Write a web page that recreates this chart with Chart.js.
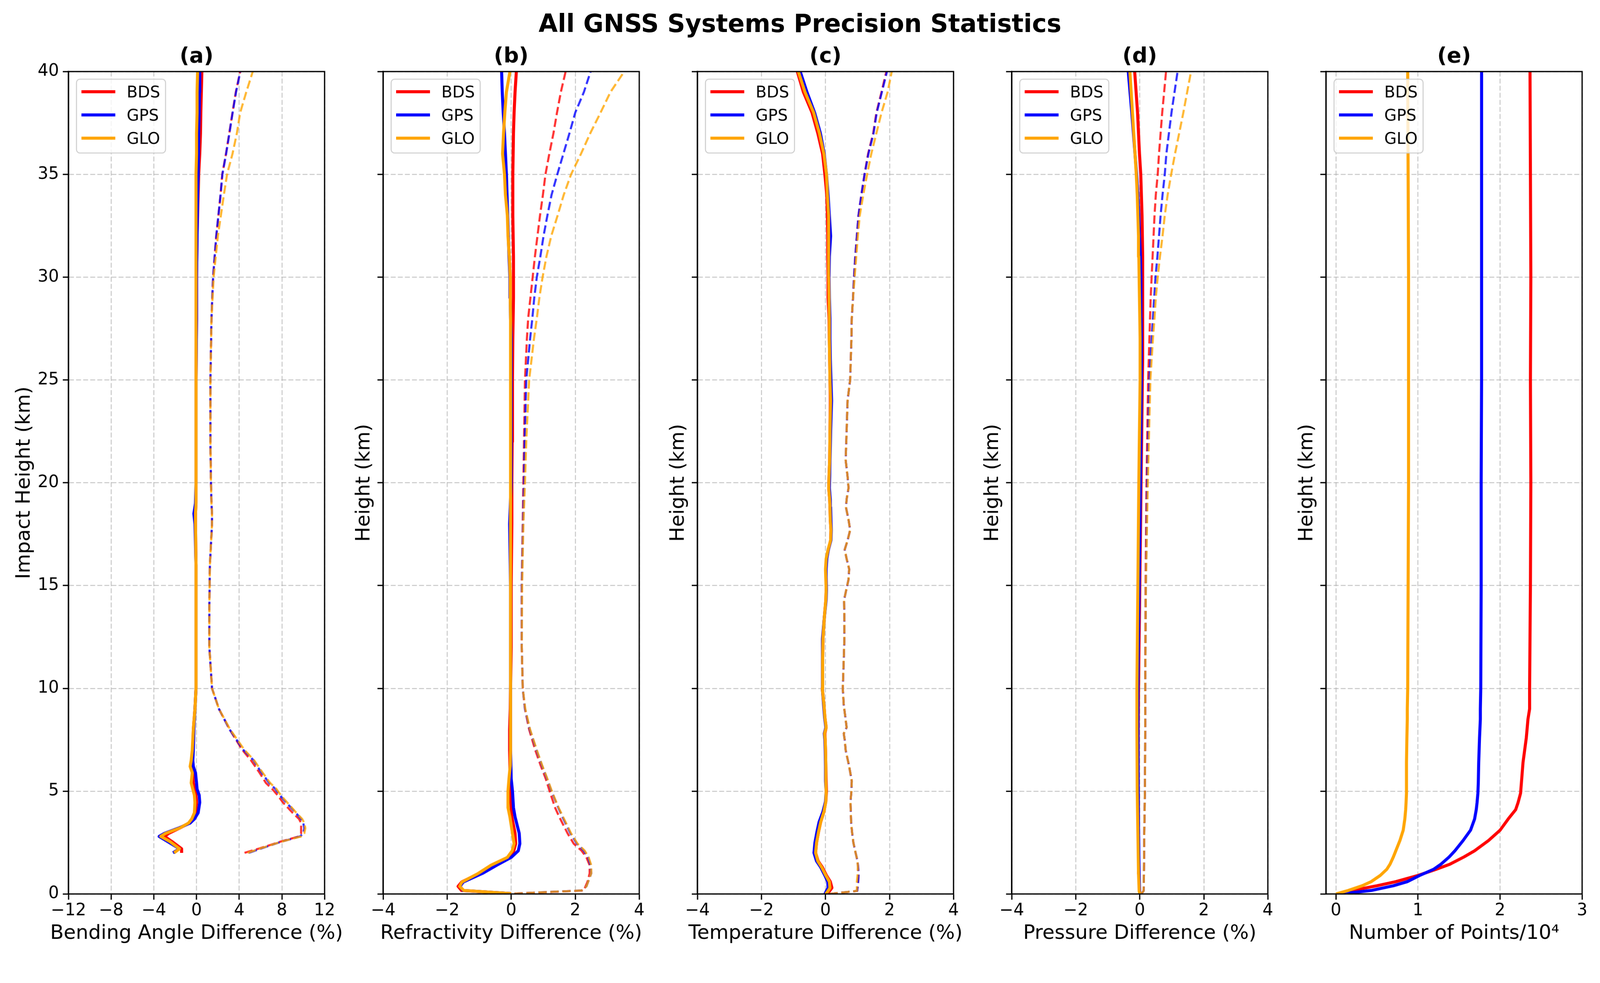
<!DOCTYPE html>
<html>
<head>
<meta charset="utf-8">
<script src="https://cdn.jsdelivr.net/npm/chart.js@4.4.1/dist/chart.umd.min.js"></script>
<style>
html,body{margin:0;padding:0;background:#ffffff;overflow:hidden;}
#fig{position:absolute;left:0;top:0;width:4205px;height:2516px;background:#ffffff;overflow:hidden;transform-origin:0 0;}
#fig canvas{position:absolute;top:0;}
#suptitle{position:absolute;left:0;top:24px;width:4205px;text-align:center;font-family:'DejaVu Sans';font-weight:bold;font-size:65px;line-height:normal;color:#000;white-space:nowrap;}
</style>
</head>
<body>
<div id="fig"><div id="suptitle">All GNSS Systems Precision Statistics</div></div>
<script>
// ---------------- DATA ----------------
const SYSTEMS = ['BDS', 'GPS', 'GLO'];
const SYS_COLORS = ['#ff0000', '#0000ff', '#ffa500'];
const SYS_COLORS_DASH = ['rgba(255,0,0,0.8)', 'rgba(0,0,255,0.8)', 'rgba(255,165,0,0.8)'];

const PANEL_TITLES = ['(a)', '(b)', '(c)', '(d)', '(e)'];
const X_LABELS = ['Bending Angle Difference (%)', 'Refractivity Difference (%)', 'Temperature Difference (%)', 'Pressure Difference (%)', 'Number of Points/10\u2074'];
const Y_LABELS = ['Impact Height (km)', 'Height (km)', 'Height (km)', 'Height (km)', 'Height (km)'];

const X_TICKS_A = [-12, -8, -4, 0, 4, 8, 12];
const X_TICKS_BCD = [-4, -2, 0, 2, 4];
const X_TICKS_E = [0, 1, 2, 3];
const Y_TICKS = [0, 5, 10, 15, 20, 25, 30, 35, 40];
const X_LIMITS = [[-12, 12], [-4, 4], [-4, 4], [-4, 4], [-0.12, 3]];
const Y_LIMITS = [0, 40];

// (a) Bending angle
const HEIGHT_A = [2.0, 2.2, 2.55, 2.8, 2.95, 3.2, 3.45, 3.65, 3.95, 4.45, 4.8, 5.1, 5.4, 5.9, 6.2, 6.5, 7.0, 8.0, 9.0, 10, 12, 14, 16, 18, 18.5, 19, 20, 22, 25, 28, 30, 32, 34, 35, 36, 37, 38, 39, 40];
const A_BDS_MEAN = [-1.4, -1.4, -2.3, -3.0, -2.6, -1.6, -0.7, -0.4, -0.1, 0.0, -0.05, -0.1, -0.3, -0.35, -0.5, -0.4, -0.35, -0.3, -0.15, -0.05, -0.05, -0.05, -0.05, -0.1, -0.1, -0.05, -0.05, -0.05, -0.05, 0.0, 0.0, 0.05, 0.15, 0.2, 0.3, 0.37, 0.4, 0.45, 0.5];
const A_GPS_MEAN = [-2.2, -1.6, -2.7, -3.5, -3.0, -1.7, -0.6, -0.2, 0.15, 0.3, 0.25, 0.05, 0.0, -0.1, -0.3, -0.35, -0.3, -0.25, -0.15, -0.05, -0.05, -0.05, -0.05, -0.15, -0.25, -0.1, -0.05, -0.05, -0.05, 0.0, 0.0, 0.05, 0.1, 0.15, 0.18, 0.2, 0.25, 0.28, 0.3];
const A_GLO_MEAN = [-2.1, -1.6, -2.5, -3.35, -2.9, -1.6, -0.75, -0.45, -0.2, -0.15, -0.2, -0.35, -0.5, -0.4, -0.6, -0.5, -0.4, -0.3, -0.15, -0.05, -0.05, -0.05, -0.05, -0.1, -0.1, -0.05, -0.05, -0.05, -0.05, -0.05, -0.05, -0.05, -0.05, -0.05, 0.0, 0.0, 0.05, 0.05, 0.1];
const A_BDS_STD = [4.5, 5.8, 7.9, 9.6, 9.8, 9.8, 9.8, 9.6, 9.0, 8.1, 7.6, 7.1, 6.5, 5.9, 5.5, 5.1, 4.3, 3.1, 2.1, 1.45, 1.2, 1.2, 1.25, 1.45, 1.45, 1.4, 1.35, 1.3, 1.3, 1.4, 1.55, 1.85, 2.25, 2.41, 2.76, 3.07, 3.37, 3.68, 4.09];
const A_GPS_STD = [4.9, 6.0, 8.0, 9.7, 10.0, 10.1, 10.0, 9.8, 9.3, 8.4, 7.8, 7.4, 6.8, 6.1, 5.7, 5.35, 4.4, 3.1, 2.1, 1.45, 1.2, 1.2, 1.25, 1.45, 1.45, 1.4, 1.35, 1.3, 1.3, 1.4, 1.55, 1.85, 2.25, 2.42, 2.77, 3.08, 3.38, 3.7, 4.1];
const A_GLO_STD = [4.8, 5.9, 8.0, 9.8, 10.1, 10.2, 10.1, 9.9, 9.35, 8.5, 7.9, 7.5, 6.9, 6.2, 5.8, 5.4, 4.5, 3.15, 2.1, 1.45, 1.2, 1.2, 1.25, 1.45, 1.45, 1.4, 1.35, 1.3, 1.3, 1.4, 1.6, 2.0, 2.56, 2.86, 3.37, 3.78, 4.09, 4.66, 5.27];

// (b) Refractivity
const HEIGHT_B = [0.02, 0.17, 0.37, 0.58, 1.0, 1.4, 1.78, 2.1, 2.45, 2.95, 3.75, 4.2, 5.0, 5.6, 6.25, 7.0, 8.0, 9.0, 10, 12, 15, 18, 20, 22, 25, 27, 28, 29, 30, 31, 32, 33, 34, 35, 36, 37, 38, 39, 40];
const B_BDS_MEAN = [0.0, -1.55, -1.66, -1.55, -1.0, -0.62, -0.08, 0.08, 0.14, 0.12, 0.02, 0.0, -0.02, -0.03, -0.04, -0.05, -0.05, -0.03, -0.02, 0.0, 0.0, 0.02, 0.02, 0.03, 0.04, 0.05, 0.06, 0.07, 0.07, 0.07, 0.06, 0.05, 0.05, 0.05, 0.06, 0.07, 0.09, 0.12, 0.16];
const B_GPS_MEAN = [0.0, -1.5, -1.6, -1.5, -0.9, -0.45, 0.0, 0.22, 0.27, 0.25, 0.12, 0.07, 0.04, 0.0, -0.01, -0.02, -0.02, -0.02, -0.02, -0.02, -0.02, -0.05, 0.0, 0.0, 0.0, 0.0, -0.02, -0.03, -0.04, -0.07, -0.09, -0.11, -0.13, -0.15, -0.18, -0.21, -0.25, -0.28, -0.30];
const B_GLO_MEAN = [0.0, -1.48, -1.61, -1.54, -1.03, -0.63, -0.12, 0.03, 0.09, 0.04, -0.04, -0.1, -0.1, -0.07, -0.03, -0.02, -0.02, -0.02, -0.02, -0.02, -0.02, -0.02, -0.02, -0.02, -0.02, -0.02, -0.02, -0.03, -0.03, -0.06, -0.1, -0.12, -0.18, -0.21, -0.27, -0.24, -0.2, -0.15, -0.04];
const B_BDS_STD = [0.1, 2.27, 2.32, 2.38, 2.45, 2.45, 2.35, 2.2, 1.95, 1.76, 1.5, 1.37, 1.2, 1.08, 0.92, 0.75, 0.56, 0.43, 0.36, 0.33, 0.33, 0.36, 0.38, 0.4, 0.43, 0.49, 0.53, 0.6, 0.67, 0.74, 0.82, 0.9, 0.99, 1.07, 1.19, 1.32, 1.43, 1.55, 1.70];
const B_GPS_STD = [0.1, 2.2, 2.35, 2.4, 2.5, 2.48, 2.4, 2.27, 2.05, 1.85, 1.6, 1.47, 1.26, 1.12, 0.96, 0.79, 0.58, 0.43, 0.36, 0.33, 0.33, 0.37, 0.4, 0.42, 0.47, 0.59, 0.66, 0.72, 0.80, 0.91, 1.01, 1.13, 1.26, 1.44, 1.63, 1.82, 2.0, 2.27, 2.48];
const B_GLO_STD = [0.1, 2.2, 2.35, 2.4, 2.5, 2.5, 2.42, 2.3, 2.07, 1.87, 1.62, 1.48, 1.27, 1.13, 0.97, 0.8, 0.59, 0.44, 0.36, 0.33, 0.34, 0.38, 0.43, 0.47, 0.56, 0.71, 0.8, 0.88, 0.98, 1.1, 1.25, 1.45, 1.64, 1.87, 2.18, 2.47, 2.79, 3.1, 3.53];

// (c) Temperature
const HEIGHT_C = [0, 0.15, 0.3, 0.6, 0.9, 1.3, 1.6, 2.0, 2.5, 3.0, 3.5, 4.0, 4.5, 5.0, 5.5, 6.2, 7.0, 7.5, 7.8, 8.1, 8.6, 9.2, 10, 11.4, 12.4, 13.4, 14.3, 14.8, 15.3, 15.8, 16.3, 16.75, 17.2, 17.7, 18.2, 18.8, 19.2, 19.75, 20.3, 21.1, 22.5, 24, 25, 26, 27, 28, 29, 30, 31, 32, 33, 34, 35, 36, 37, 38, 39, 40];
const C_BDS_MEAN = [0.05, 0.13, 0.2, 0.15, 0.03, -0.1, -0.23, -0.31, -0.28, -0.22, -0.15, -0.05, 0.01, 0.03, 0.02, 0.01, 0.0, -0.01, -0.02, 0.02, -0.02, -0.05, -0.1, -0.09, -0.08, -0.04, 0.01, 0.02, 0.02, 0.01, 0.03, 0.09, 0.16, 0.17, 0.15, 0.14, 0.13, 0.1, 0.11, 0.13, 0.14, 0.15, 0.14, 0.13, 0.12, 0.11, 0.08, 0.08, 0.07, 0.07, 0.06, 0.04, -0.02, -0.09, -0.24, -0.42, -0.69, -0.88];
const C_GPS_MEAN = [-0.02, 0.03, 0.08, 0.07, -0.02, -0.15, -0.28, -0.36, -0.33, -0.27, -0.2, -0.08, 0.0, 0.02, 0.0, 0.0, -0.01, -0.02, -0.04, 0.01, -0.03, -0.06, -0.1, -0.1, -0.09, -0.04, 0.02, 0.03, 0.02, 0.02, 0.04, 0.09, 0.17, 0.18, 0.17, 0.16, 0.15, 0.12, 0.13, 0.14, 0.16, 0.19, 0.17, 0.15, 0.14, 0.14, 0.12, 0.11, 0.12, 0.16, 0.12, 0.08, 0.03, -0.04, -0.16, -0.34, -0.58, -0.79];
const C_GLO_MEAN = [0.01, 0.08, 0.14, 0.12, 0.01, -0.12, -0.24, -0.31, -0.28, -0.22, -0.15, -0.05, 0.01, 0.02, 0.01, 0.01, 0.0, -0.01, -0.03, 0.02, -0.02, -0.05, -0.1, -0.09, -0.08, -0.04, 0.01, 0.02, 0.01, 0.0, 0.02, 0.08, 0.16, 0.17, 0.15, 0.14, 0.13, 0.1, 0.11, 0.13, 0.14, 0.16, 0.14, 0.13, 0.12, 0.12, 0.11, 0.1, 0.1, 0.1, 0.09, 0.06, 0.03, -0.05, -0.19, -0.37, -0.64, -0.85];
const C_BDS_STD = [0.12, 0.99, 1.0, 1.02, 1.03, 1.02, 1.0, 0.94, 0.87, 0.83, 0.8, 0.79, 0.78, 0.81, 0.82, 0.74, 0.63, 0.6, 0.57, 0.66, 0.62, 0.57, 0.54, 0.57, 0.59, 0.59, 0.58, 0.65, 0.72, 0.74, 0.66, 0.6, 0.69, 0.77, 0.72, 0.64, 0.66, 0.72, 0.69, 0.63, 0.66, 0.69, 0.77, 0.79, 0.81, 0.82, 0.86, 0.89, 0.93, 0.98, 1.03, 1.12, 1.22, 1.33, 1.49, 1.59, 1.75, 1.90];
const C_GPS_STD = [0.12, 0.99, 1.0, 1.02, 1.03, 1.02, 1.0, 0.94, 0.87, 0.83, 0.8, 0.79, 0.78, 0.81, 0.82, 0.74, 0.63, 0.6, 0.57, 0.66, 0.62, 0.57, 0.54, 0.57, 0.59, 0.59, 0.58, 0.65, 0.72, 0.74, 0.66, 0.6, 0.69, 0.77, 0.72, 0.64, 0.66, 0.72, 0.69, 0.63, 0.66, 0.69, 0.77, 0.79, 0.81, 0.82, 0.86, 0.89, 0.93, 0.98, 1.03, 1.12, 1.22, 1.34, 1.5, 1.6, 1.76, 1.92];
const C_GLO_STD = [0.12, 0.98, 0.98, 0.98, 1.0, 1.01, 1.0, 0.94, 0.87, 0.83, 0.8, 0.79, 0.78, 0.81, 0.82, 0.74, 0.63, 0.6, 0.57, 0.66, 0.62, 0.57, 0.54, 0.57, 0.59, 0.59, 0.58, 0.65, 0.72, 0.74, 0.66, 0.6, 0.69, 0.77, 0.72, 0.64, 0.66, 0.72, 0.69, 0.63, 0.66, 0.69, 0.77, 0.79, 0.81, 0.82, 0.86, 0.91, 0.96, 1.01, 1.07, 1.18, 1.3, 1.43, 1.59, 1.75, 1.94, 2.07];

// (d) Pressure
const HEIGHT_D = [0, 0.15, 1, 3, 5, 8, 10, 15, 20, 25, 26, 27, 28, 29, 30, 31, 32, 33, 34, 35, 36, 38, 40];
const D_BDS_MEAN = [0.0, -0.01, -0.03, -0.04, -0.05, -0.05, -0.04, 0.0, 0.04, 0.08, 0.09, 0.09, 0.09, 0.09, 0.09, 0.09, 0.08, 0.07, 0.05, 0.03, -0.01, -0.07, -0.16];
const D_GPS_MEAN = [0.0, -0.01, -0.02, -0.04, -0.05, -0.06, -0.06, -0.02, 0.02, 0.05, 0.05, 0.05, 0.04, 0.04, 0.03, 0.02, -0.01, -0.03, -0.06, -0.1, -0.15, -0.25, -0.36];
const D_GLO_MEAN = [0.0, -0.02, -0.04, -0.06, -0.08, -0.09, -0.09, -0.06, -0.03, 0.01, 0.01, 0.01, 0.0, -0.01, -0.02, -0.03, -0.04, -0.06, -0.08, -0.11, -0.15, -0.23, -0.31];
const D_BDS_STD = [0.04, 0.12, 0.13, 0.14, 0.16, 0.17, 0.17, 0.18, 0.21, 0.26, 0.28, 0.30, 0.32, 0.34, 0.37, 0.40, 0.43, 0.46, 0.50, 0.56, 0.60, 0.70, 0.82];
const D_GPS_STD = [0.04, 0.12, 0.13, 0.14, 0.16, 0.17, 0.17, 0.19, 0.23, 0.30, 0.33, 0.37, 0.41, 0.45, 0.49, 0.55, 0.60, 0.65, 0.71, 0.78, 0.83, 0.99, 1.18];
const D_GLO_STD = [0.04, 0.12, 0.13, 0.14, 0.16, 0.17, 0.17, 0.19, 0.25, 0.33, 0.37, 0.41, 0.46, 0.50, 0.56, 0.63, 0.71, 0.78, 0.87, 0.98, 1.10, 1.36, 1.60];

// (e) Number of points (x 10^4)
const HEIGHT_E = [0, 0.17, 0.4, 0.6, 0.9, 1.2, 1.45, 1.8, 2.1, 2.6, 3.1, 3.65, 4.1, 4.45, 4.9, 5.4, 6.4, 7.6, 8.5, 9.0, 10, 15, 20, 25, 30, 35, 40];
const E_BDS_COUNT = [0.03, 0.2, 0.5, 0.73, 1.0, 1.22, 1.39, 1.56, 1.69, 1.86, 2.0, 2.1, 2.19, 2.22, 2.25, 2.26, 2.28, 2.32, 2.34, 2.36, 2.36, 2.37, 2.375, 2.37, 2.375, 2.37, 2.365];
const E_GPS_COUNT = [0.05, 0.43, 0.7, 0.87, 1.02, 1.19, 1.28, 1.38, 1.45, 1.55, 1.64, 1.69, 1.71, 1.72, 1.73, 1.735, 1.74, 1.75, 1.76, 1.76, 1.765, 1.77, 1.77, 1.775, 1.775, 1.775, 1.775];
const E_GLO_COUNT = [0.0, 0.15, 0.32, 0.43, 0.54, 0.62, 0.66, 0.7, 0.73, 0.78, 0.82, 0.84, 0.85, 0.855, 0.86, 0.86, 0.86, 0.865, 0.87, 0.87, 0.875, 0.88, 0.885, 0.885, 0.885, 0.88, 0.875];

// ---------------- PANEL TABLE (built from arrays) ----------------
const PANELS = [
  {heights: HEIGHT_A, xticks: X_TICKS_A, series: [{mean: A_BDS_MEAN, std: A_BDS_STD}, {mean: A_GPS_MEAN, std: A_GPS_STD}, {mean: A_GLO_MEAN, std: A_GLO_STD}]},
  {heights: HEIGHT_B, xticks: X_TICKS_BCD, series: [{mean: B_BDS_MEAN, std: B_BDS_STD}, {mean: B_GPS_MEAN, std: B_GPS_STD}, {mean: B_GLO_MEAN, std: B_GLO_STD}]},
  {heights: HEIGHT_C, xticks: X_TICKS_BCD, series: [{mean: C_BDS_MEAN, std: C_BDS_STD}, {mean: C_GPS_MEAN, std: C_GPS_STD}, {mean: C_GLO_MEAN, std: C_GLO_STD}]},
  {heights: HEIGHT_D, xticks: X_TICKS_BCD, series: [{mean: D_BDS_MEAN, std: D_BDS_STD}, {mean: D_GPS_MEAN, std: D_GPS_STD}, {mean: D_GLO_MEAN, std: D_GLO_STD}]},
  {heights: HEIGHT_E, xticks: X_TICKS_E, series: [{mean: E_BDS_COUNT}, {mean: E_GPS_COUNT}, {mean: E_GLO_COUNT}]}
];

// ---------------- LAYOUT / STYLE ----------------
const FONT = 'DejaVu Sans';
const FIG_W = 4205, FIG_H = 2516;
const AXES_LEFTS = [180, 1007, 1833, 2659, 3485];
const AXES_W = 673;
const AXES_TOP = 188, AXES_BOTTOM = 2349;
const Y_BOX = 180, R_PAD = 60;
const X_BOX = FIG_H - AXES_BOTTOM;
const GRID_COLOR = 'rgba(176,176,176,0.72)';
const GRID_DASH = [13, 5.6];
const SPINE_W = 3.3;
const TITLE_SPREAD = 200; // extra room so x-axis titles are not squeezed to the axis width

const fig = document.getElementById('fig');
(function fitFigure() {
  const vw = window.innerWidth || FIG_W;
  const s = vw / FIG_W;
  if (Math.abs(s - 1) > 0.002) {
    fig.style.transform = 'scale(' + s + ')';
  }
})();

function fmtTick(v) {
  const r = Math.round(v * 1000) / 1000;
  return String(r).replace('-', '\u2212');
}
function lineData(H, V) { return H.map((h, k) => ({x: V[k], y: h})); }

// Let the x-axis title use its natural width (Chart.js otherwise limits it to the axis length)
const widenXTitle = {
  id: 'widenXTitle',
  afterLayout(chart) {
    const s = chart.scales.x;
    s.left -= TITLE_SPREAD;
    s.right += TITLE_SPREAD;
  }
};

const framePlugin = {
  id: 'frame',
  afterDatasetsDraw(chart) {
    const {ctx, chartArea: a} = chart;
    ctx.save();
    ctx.strokeStyle = '#000';
    ctx.lineWidth = SPINE_W;
    ctx.lineJoin = 'miter';
    ctx.strokeRect(a.left, a.top, a.right - a.left, a.bottom - a.top);
    ctx.restore();
  }
};

const innerLegend = {
  id: 'innerLegend',
  afterDatasetsDraw(chart) {
    const {ctx, chartArea: a} = chart;
    const items = chart.data.datasets.filter(d => d.inLegend);
    const x0 = a.left + 21, y0 = a.top + 20, w = 234, h = 194, r = 9;
    ctx.save();
    ctx.beginPath();
    ctx.moveTo(x0 + r, y0);
    ctx.lineTo(x0 + w - r, y0); ctx.arcTo(x0 + w, y0, x0 + w, y0 + r, r);
    ctx.lineTo(x0 + w, y0 + h - r); ctx.arcTo(x0 + w, y0 + h, x0 + w - r, y0 + h, r);
    ctx.lineTo(x0 + r, y0 + h); ctx.arcTo(x0, y0 + h, x0, y0 + h - r, r);
    ctx.lineTo(x0, y0 + r); ctx.arcTo(x0, y0, x0 + r, y0, r);
    ctx.closePath();
    ctx.fillStyle = 'rgba(255,255,255,0.8)';
    ctx.fill();
    ctx.strokeStyle = '#cccccc';
    ctx.lineWidth = 2.6;
    ctx.stroke();
    const fs = 42;
    ctx.font = fs + "px '" + FONT + "'";
    ctx.textBaseline = 'alphabetic';
    ctx.textAlign = 'left';
    items.forEach((d, k) => {
      const yy = y0 + 33 + 61 * k;
      ctx.beginPath();
      ctx.moveTo(x0 + 13, yy); ctx.lineTo(x0 + 102, yy);
      ctx.strokeStyle = d.borderColor; ctx.lineWidth = d.borderWidth; ctx.lineCap = 'butt';
      ctx.stroke();
      ctx.fillStyle = '#000';
      ctx.fillText(d.label, x0 + 132, yy + 0.3645 * fs);
    });
    ctx.restore();
  }
};

function buildPanel(p, i) {
  const cv = document.createElement('canvas');
  const left = AXES_LEFTS[i] - Y_BOX;
  const w = Y_BOX + AXES_W + R_PAD;
  cv.width = w; cv.height = FIG_H;
  cv.style.left = left + 'px';
  cv.style.width = w + 'px';
  cv.style.height = FIG_H + 'px';
  fig.appendChild(cv);

  const datasets = [];
  p.series.forEach((s, k) => {
    datasets.push({
      label: SYSTEMS[k], inLegend: true,
      data: lineData(p.heights, s.mean),
      showLine: true, borderColor: SYS_COLORS[k], backgroundColor: SYS_COLORS[k],
      borderWidth: 8, pointRadius: 0, pointHoverRadius: 0, fill: false, tension: 0,
      borderCapStyle: 'butt', borderJoinStyle: 'round', order: 10 - 3 * k
    });
    if (s.std) {
      datasets.push({
        label: SYSTEMS[k] + ' std', inLegend: false,
        data: lineData(p.heights, s.std),
        showLine: true, borderColor: SYS_COLORS_DASH[k], backgroundColor: SYS_COLORS_DASH[k],
        borderWidth: 5.5, borderDash: [22, 9.5], pointRadius: 0, pointHoverRadius: 0, fill: false, tension: 0,
        borderCapStyle: 'butt', borderJoinStyle: 'round', order: 9 - 3 * k
      });
    }
  });

  const gridCommon = {color: GRID_COLOR, lineWidth: 2.5, borderDash: GRID_DASH, drawTicks: true, tickLength: 15, tickColor: '#000', tickWidth: SPINE_W, tickBorderDash: []};

  new Chart(cv, {
    type: 'scatter',
    data: {datasets},
    options: {
      responsive: false, animation: false, devicePixelRatio: 1,
      events: [],
      layout: {padding: {left: 0, right: R_PAD, top: 115.4, bottom: 0}},
      plugins: {
        legend: {display: false},
        tooltip: {enabled: false},
        title: {display: true, text: PANEL_TITLES[i], fullSize: false, align: 'center', color: '#000',
                font: {family: FONT, size: 56, weight: 'bold'}, padding: {top: 0, bottom: 5.4}}
      },
      scales: {
        x: {
          type: 'linear', position: 'bottom',
          min: X_LIMITS[i][0], max: X_LIMITS[i][1],
          afterBuildTicks: (s) => { s.ticks = p.xticks.map(v => ({value: v})); },
          afterFit: (s) => { s.height = X_BOX; },
          grid: gridCommon,
          border: {display: true, color: 'rgba(0,0,0,0)', width: SPINE_W, dash: GRID_DASH},
          ticks: {display: true, color: '#000', font: {family: FONT, size: 44}, padding: 3.6,
                  maxRotation: 0, autoSkip: false, callback: (v) => fmtTick(v)},
          title: {display: true, text: X_LABELS[i], color: '#000', font: {family: FONT, size: 52},
                  padding: {top: 0, bottom: 31.2}}
        },
        y: {
          type: 'linear', position: 'left',
          min: Y_LIMITS[0], max: Y_LIMITS[1],
          afterBuildTicks: (s) => { s.ticks = Y_TICKS.map(v => ({value: v})); },
          afterFit: (s) => { s.width = Y_BOX; },
          grid: gridCommon,
          border: {display: true, color: '#000', width: SPINE_W, dash: GRID_DASH},
          ticks: {display: i === 0, color: '#000', font: {family: FONT, size: 44}, padding: 10,
                  autoSkip: false, callback: (v) => fmtTick(v)},
          title: {display: true, text: Y_LABELS[i], color: '#000', font: {family: FONT, size: 52},
                  padding: {top: i === 0 ? 32.8 : 99.3, bottom: 0}}
        }
      }
    },
    plugins: [widenXTitle, framePlugin, innerLegend]
  });
}

PANELS.forEach(buildPanel);
</script>
</body>
</html>
